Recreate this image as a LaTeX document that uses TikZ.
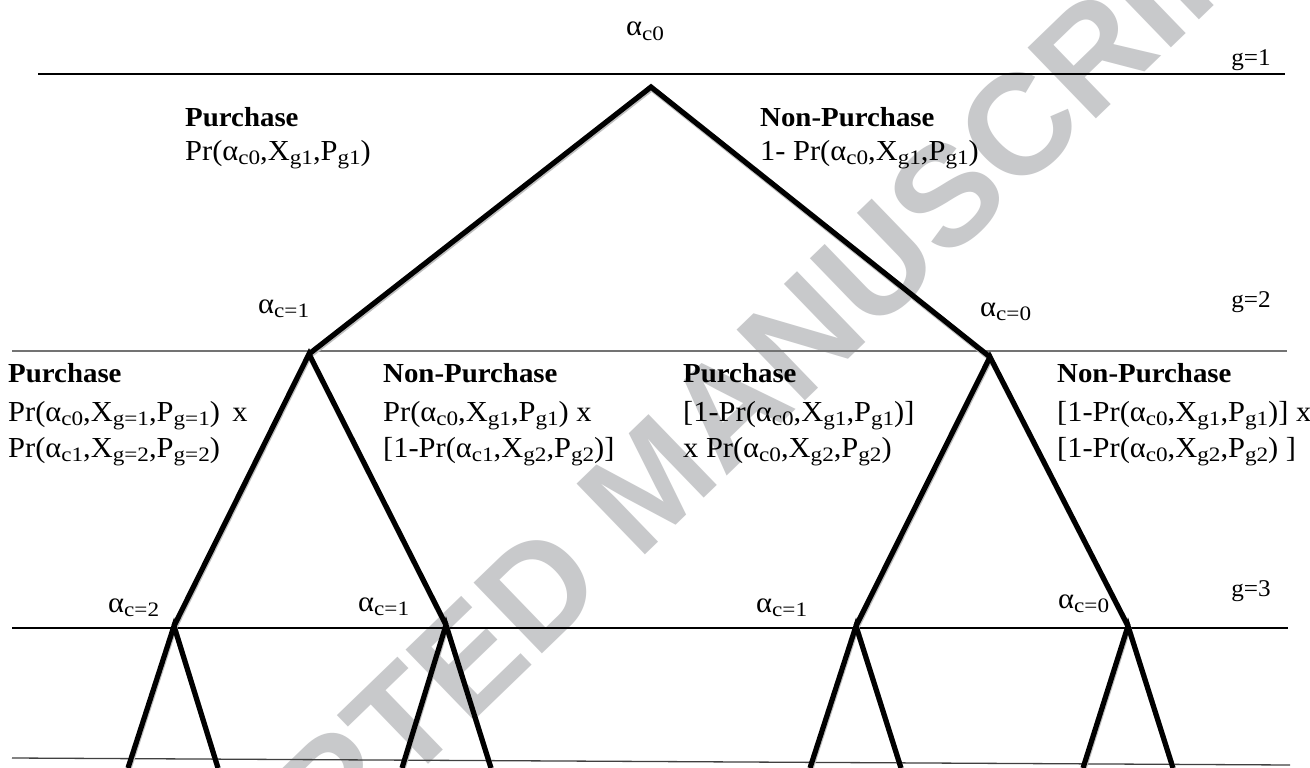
\documentclass[tikz,border=0pt]{standalone}
\usepackage{fontspec}
\setmainfont{Liberation Serif}[FakeStretch=1.05]
\newfontfamily\subfont{Liberation Serif}[FakeStretch=1.13]
\newfontfamily\wmfont{Liberation Sans}
\newcommand{\sbx}[1]{\raisebox{-4.5pt}{\subfont\fontsize{20.5}{20.5}\selectfont #1}}
\definecolor{wmgray}{RGB}{200,201,203}
\begin{document}
\begin{tikzpicture}[x=1pt,y=-1pt,
  txt/.style={font=\fontsize{29}{35}\selectfont, inner sep=0pt, anchor=base west},
  btxt/.style={font=\fontsize{27.5}{35}\selectfont\bfseries, inner sep=0pt, anchor=base west},
  glab/.style={font=\fontsize{24}{30}\selectfont, inner sep=0pt, anchor=base east},
  branch/.style={line width=5.2pt, line join=miter, line cap=butt},
  shade/.style={line width=5.2pt, line join=miter, line cap=butt, black!25, transform canvas={shift={(0.6pt,-1.8pt)}}},
  level/.style={line width=1.3pt},
]
\useasboundingbox (0,0) rectangle (1310,768);
\clip (0,0) rectangle (1310,768);
\fill[white] (0,0) rectangle (1310,768);

% watermark
\node[rotate=44, text=wmgray, font=\wmfont\bfseries\fontsize{143}{143}\selectfont, inner sep=0pt] (wm) at (650,482) {ACCEPTED MANUSCRIPT};

% level lines
\coordinate (g1a) at (38,74);   \coordinate (g1b) at (1285,74);
\coordinate (g2a) at (12,351);  \coordinate (g2b) at (1287,351);
\coordinate (g3a) at (12,628);  \coordinate (g3b) at (1288,628);
\coordinate (g4a) at (12,758);  \coordinate (g4b) at (1290,765);
\draw[level] (g1a) -- (g1b);
\draw[level, black!55] (g2a) -- (g2b);
\draw[level] (g3a) -- (g3b);
\draw[level, black!75] (g4a) -- (g4b);

% tree coordinates
\coordinate (root) at (651,87);
\coordinate (L) at (309,354);
\coordinate (R) at (990,357);
\coordinate (LL) at (174,626);
\coordinate (LR) at (446,625);
\coordinate (RL) at (856,626);
\coordinate (RR) at (1128,626);
\coordinate (LLa) at (128,768); \coordinate (LLb) at (218,768);
\coordinate (LRa) at (402,768); \coordinate (LRb) at (491,768);
\coordinate (RLa) at (810,768); \coordinate (RLb) at (901,768);
\coordinate (RRa) at (1083,768); \coordinate (RRb) at (1173,768);

\foreach \s in {shade,branch}{
  \draw[\s] (L) -- (root) -- (R);
  \draw[\s] (LL) -- (L) -- (LR);
  \draw[\s] (RL) -- (R) -- (RR);
  \draw[\s] (LLa) -- (LL) -- (LLb);
  \draw[\s] (LRa) -- (LR) -- (LRb);
  \draw[\s] (RLa) -- (RL) -- (RLb);
  \draw[\s] (RRa) -- (RR) -- (RRb);
}

% level labels
\node[txt] (a0) at (626,36) {α\sbx{c0}};
\node[glab] (G1) at (1271,66) {g=1};
\node[glab] (G2) at (1271,307) {g=2};
\node[glab] (G3) at (1271,596) {g=3};

% first split labels
\node[btxt] (p1) at (185,126) {Purchase};
\node[txt] (p1b) at (185,160) {Pr(α\sbx{c0},X\sbx{g1},P\sbx{g1})};
\node[btxt] (n1) at (760,126) {Non-Purchase};
\node[txt] (n1b) at (760,160) {1- Pr(α\sbx{c0},X\sbx{g1},P\sbx{g1})};

\node[txt] (aL) at (258,313) {α\sbx{c=1}};
\node[txt] (aR) at (980,316) {α\sbx{c=0}};

% second split labels
\node[btxt] (p2) at (8,382) {Purchase};
\node[txt] (p2b) at (8,421) {Pr(α\sbx{c0},X\sbx{g=1},P\sbx{g=1})\, x};
\node[txt] (p2c) at (8,457) {Pr(α\sbx{c1},X\sbx{g=2},P\sbx{g=2})};

\node[btxt] (n2) at (383,382) {Non-Purchase};
\node[txt] (n2b) at (383,421) {Pr(α\sbx{c0},X\sbx{g1},P\sbx{g1}) x};
\node[txt] (n2c) at (383,457) {[1-Pr(α\sbx{c1},X\sbx{g2},P\sbx{g2})]};

\node[btxt] (p3) at (683,382) {Purchase};
\node[txt] (p3b) at (683,421) {[1-Pr(α\sbx{c0},X\sbx{g1},P\sbx{g1})]};
\node[txt] (p3c) at (683,457) {x Pr(α\sbx{c0},X\sbx{g2},P\sbx{g2})};

\node[btxt] (n3) at (1057,382) {Non-Purchase};
\node[txt] (n3b) at (1057,421) {[1-Pr(α\sbx{c0},X\sbx{g1},P\sbx{g1})] x};
\node[txt] (n3c) at (1057,457) {[1-Pr(α\sbx{c0},X\sbx{g2},P\sbx{g2}) ]};

% third level labels
\node[txt] (aLL) at (108,612) {α\sbx{c=2}};
\node[txt] (aLR) at (358,611) {α\sbx{c=1}};
\node[txt] (aRL) at (756,612) {α\sbx{c=1}};
\node[txt] (aRR) at (1058,608) {α\sbx{c=0}};
\end{tikzpicture}
\end{document}
